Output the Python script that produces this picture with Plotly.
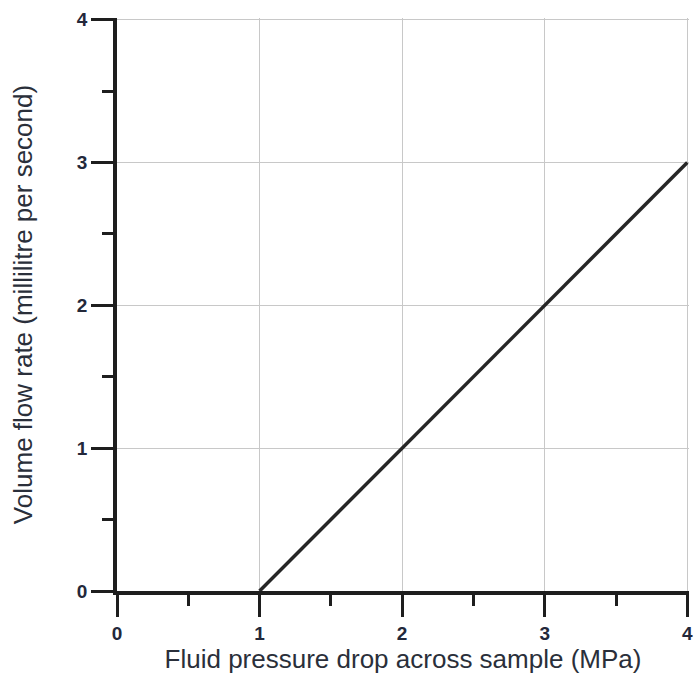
import plotly.graph_objects as go

# fluid pressure drop (MPa) vs volume flow rate (ml/s)
pressure_drop = [1, 4]
flow_rate = [0, 3]

tick_vals = [0, 1, 2, 3, 4]
tick_text = ["0", "1", "2", "3", "4"]

fig = go.Figure()
fig.add_trace(go.Scatter(x=pressure_drop, y=flow_rate, mode="lines",
                         line=dict(color="#262626", width=3.5),
                         showlegend=False, cliponaxis=False))

axis_common = dict(
    range=[0, 4.012],
    tickvals=tick_vals,
    ticktext=tick_text,
    showgrid=True,
    gridcolor="#c8c8c8",
    gridwidth=1,
    showline=True,
    linecolor="#1e1e1e",
    linewidth=3.5,
    ticks="outside",
    ticklen=22,
    tickwidth=3,
    tickcolor="#1e1e1e",
    zeroline=False,
    tickfont=dict(family="Liberation Sans, Arial", size=19, color="#23283a", weight="bold"),
    minor=dict(dtick=0.5, ticks="outside", ticklen=11, tickwidth=3,
               tickcolor="#1e1e1e", showgrid=False),
)

fig.update_xaxes(**axis_common,
                 title=dict(text="Fluid pressure drop across sample (MPa)",
                            font=dict(family="Liberation Sans, Arial", size=26, color="#2a2f3a"),
                            standoff=4))
fig.update_yaxes(**axis_common,
                 title=dict(text="Volume flow rate (millilitre per second)",
                            font=dict(family="Liberation Sans, Arial", size=26, color="#2a2f3a"),
                            standoff=38))

fig.update_layout(
    width=700, height=677,
    margin=dict(l=117, r=7, t=18, b=86),
    plot_bgcolor="white",
    paper_bgcolor="white",
)

# drop the default body margin so the figure sits at the page corner
fig.write_html("out.html", config={"displayModeBar": False},
               post_script="document.body.style.margin='0';")
